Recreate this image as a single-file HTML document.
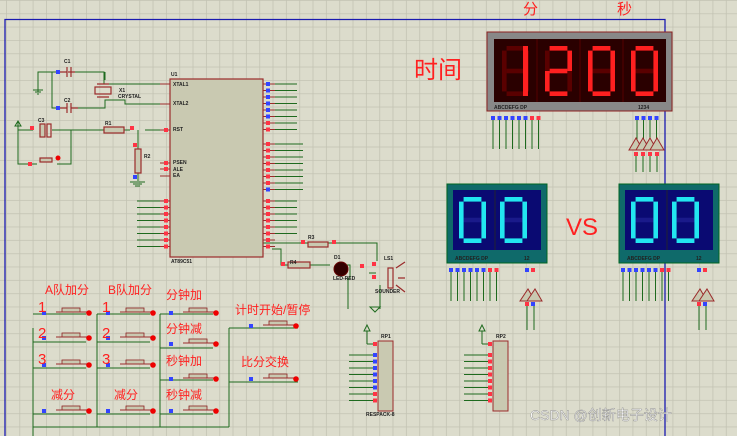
<!DOCTYPE html>
<html><head><meta charset="utf-8"><style>
html,body{margin:0;padding:0;background:#dcdccc;}
svg{display:block}
.cn{font-family:"Liberation Sans","Noto Sans CJK SC",sans-serif;fill:#ff2020}
.sm{font-family:"Liberation Sans",sans-serif;font-size:5px;fill:#222;font-weight:bold}
.gr{font-family:"Liberation Sans",sans-serif;font-size:4px;fill:#999}
</style></head><body>
<svg id="s" width="737" height="436" viewBox="0 0 737 436" xmlns="http://www.w3.org/2000/svg">
<defs>
<pattern id="g" x="6" y="0" width="13.33" height="13.33" patternUnits="userSpaceOnUse">
<rect width="13.33" height="13.33" fill="#dcdccc"/>
<path d="M0 0H13.33M0 0V13.33" stroke="#c3c3b3" stroke-width="1.6" fill="none"/>
</pattern>
</defs>
<rect width="737" height="436" fill="url(#g)"/>
<!-- blue frame -->
<path d="M5 436V19.5H665V436" stroke="#1a1ab0" stroke-width="1.3" fill="none"/>

<g id="wires" stroke="#1e6a1e" stroke-width="1" fill="none">
<!-- oscillator -->
<path d="M38 92V72H58M52 72V108H58M75 72H104V84H160M75 108H105V100H125V104H160M105 72V80M105 102V108"/>
<path d="M18 121V130H33M52 130H130M138 130V181M145 130H165M18 130V164H37M57 164H71V130"/>
<path d="M33 328V436M97 314V427M160 314V427M229 328V427M33 427H229"/>
<path d="M33 314H86M97 314H150M160 314H213"/>
<path d="M33 342H86M97 342H150M160 348H213"/>
<path d="M33 368H86M97 368H150M160 380H213"/>
<path d="M33 414H86M97 414H150M160 414H213"/>
<path d="M229 328H298M229 382H298"/>
<!-- led/buzzer -->
<path d="M263 243H377V261M272 249H281V265H288M300 265H330M345 265H350V278M348 278V309M369 273H376M380 285V309"/>
</g>

<!-- U1 chip -->
<rect x="170" y="79" width="93" height="178" fill="#c9c9b1" stroke="#9b2b2b" stroke-width="1.2"/>
<text x="171" y="76" class="sm">U1</text>
<text x="171" y="263" class="sm">AT89C51</text>
<text x="173" y="86" class="sm" font-size="4">XTAL1</text>
<text x="173" y="105" class="sm" font-size="4">XTAL2</text>
<text x="173" y="131" class="sm" font-size="4">RST</text>
<text x="173" y="164" class="sm" font-size="4">PSEN</text>
<text x="173" y="171" class="sm" font-size="4">ALE</text>
<text x="173" y="177" class="sm" font-size="4">EA</text>

<!-- capacitors/crystal -->
<g stroke="#9b2b2b" stroke-width="1.2" fill="none">
<path d="M58 72H67M75 72H68M67 67V77M71 67V77"/>
<path d="M58 108H67M71 108H78M67 103V113M71 103V113"/>
<rect x="95" y="87" width="16" height="7"/>
<path d="M97 84H109M97 97H109"/>
<rect x="40" y="124" width="5" height="13" fill="#c9c9b1"/><rect x="47" y="124" width="4" height="13"/>
<rect x="104" y="127" width="20" height="6" fill="#c9c9b1"/>
<rect x="135" y="149" width="6" height="24" fill="#c9c9b1"/>
<rect x="40" y="158" width="12" height="4" fill="#c9c9b1"/>
<rect x="308" y="242" width="20" height="5" fill="#c9c9b1"/>
<rect x="288" y="262" width="22" height="6" fill="#c9c9b1"/>
<rect x="388" y="268" width="5" height="20"/>
<path d="M396 268L405 262M396 285L405 292M398 278H405"/>
</g>
<path d="M33 90H43M35 92H41M37 94H39M130 182H145M133 184H142M135 186H140" stroke="#1e6a1e" stroke-width="1"/>
<path d="M18 121L15 126H21Z M370 307H380L375 312Z" fill="none" stroke="#1e6a1e"/>
<circle cx="341" cy="269" r="7" fill="#330000" stroke="#600" />
<text x="64" y="63" class="sm" font-size="7">C1</text>
<text x="64" y="102" class="sm" font-size="7">C2</text>
<text x="38" y="122" class="sm" font-size="7">C3</text>
<text x="119" y="92" class="sm" font-size="7">X1</text>
<text x="118" y="98" class="sm" font-size="4">CRYSTAL</text>
<text x="105" y="125" class="sm" font-size="7">R1</text>
<text x="144" y="158" class="sm" font-size="7">R2</text>
<text x="308" y="239" class="sm" font-size="7">R3</text>
<text x="290" y="264" class="sm" font-size="7">R4</text>
<text x="334" y="259" class="sm" font-size="7">D1</text>
<text x="384" y="260" class="sm" font-size="7">LS1</text>
<text x="375" y="293" class="sm" font-size="4">SOUNDER</text>
<text x="333" y="280" class="sm" font-size="4">LED-RED</text>

<!-- red display -->
<rect x="487" y="32" width="185" height="79" fill="#888" stroke="#8b2020" stroke-width="1"/>
<rect x="494" y="39" width="172" height="63" fill="#2a0000"/>
<text x="494" y="109" class="sm" font-size="5">ABCDEFG  DP</text>
<text x="638" y="109" class="sm" font-size="5">1234</text>
<!-- blue displays -->
<rect x="447" y="184" width="100" height="79" fill="#0f6a6a" stroke="#062" stroke-width="1"/>
<rect x="453" y="190" width="88" height="60" fill="#0a0a72"/>
<text x="455" y="260" class="sm" font-size="5">ABCDEFG  DP</text><text x="524" y="260" class="sm" font-size="5">12</text>
<rect x="619" y="184" width="100" height="79" fill="#0f6a6a" stroke="#062" stroke-width="1"/>
<rect x="625" y="190" width="88" height="60" fill="#0a0a72"/>
<text x="627" y="260" class="sm" font-size="5">ABCDEFG  DP</text><text x="696" y="260" class="sm" font-size="5">12</text>
<g id="digits"></g>
<g id="pins"></g>

<!-- RP -->
<rect x="378" y="341" width="15" height="70" fill="#c9c9b1" stroke="#9b2b2b"/>
<rect x="493" y="341" width="15" height="70" fill="#c9c9b1" stroke="#9b2b2b"/>
<text x="381" y="338" class="sm" font-size="6">RP1</text>
<text x="496" y="338" class="sm" font-size="6">RP2</text>
<text x="366" y="416" class="sm" font-size="4">RESPACK-8</text>

<!-- big labels -->
<text x="414" y="78" class="cn" font-size="24">时间</text>
<text x="523" y="14" class="cn" font-size="15">分</text>
<text x="617" y="14" class="cn" font-size="15">秒</text>
<text x="566" y="235" class="cn" font-size="24">VS</text>
<g class="cn" font-size="12">
<text x="45" y="294">A队加分</text><text x="108" y="294">B队加分</text>
<text x="166" y="299">分钟加</text><text x="166" y="333">分钟减</text>
<text x="166" y="365">秒钟加</text><text x="166" y="399">秒钟减</text>
<text x="51" y="399">减分</text><text x="114" y="399">减分</text>
<text x="235" y="314">计时开始/暂停</text><text x="241" y="366">比分交换</text>
</g>
<g class="cn" font-size="15">
<text x="38" y="312">1</text><text x="38" y="338">2</text><text x="38" y="364">3</text>
<text x="102" y="312">1</text><text x="102" y="338">2</text><text x="102" y="364">3</text>
</g>
<text x="530" y="420" font-family="Liberation Sans,Noto Sans CJK SC,sans-serif" font-size="14" fill="#ffffff" stroke="#888" stroke-width="0.4">CSDN @创新电子设计</text>
</svg>
<script>
var NS="http://www.w3.org/2000/svg",s=document.getElementById('s');
function el(t,a,p){var e=document.createElementNS(NS,t);for(var k in a)e.setAttribute(k,a[k]);(p||s).appendChild(e);return e;}
var D=document.getElementById('digits');
var M={0:"abcdef",1:"bc",2:"abdeg"};
function dig(x,y,w,h,d,on,off){var t=Math.max(3,w*0.17),m=h/2;
var seg={a:[x+t,y,w-2*t,t],d:[x+t,y+h-t,w-2*t,t],g:[x+t,y+m-t/2,w-2*t,t],f:[x,y+t,t,m-t],e:[x,y+m,t,m-t],b:[x+w-t,y+t,t,m-t],c:[x+w-t,y+m,t,m-t]};
for(var k in seg){var r=seg[k];el('rect',{x:r[0],y:r[1],width:r[2],height:r[3],fill:(d!=null&&M[d].indexOf(k)>=0)?on:off},D);}}
[null,1,2,0,0].slice(0);
var rd=[null,1,2,0];
// 4 red digits (first off but "1" shifted)
dig(502,46,27,50,null,'#ff2020','#5a0000');el('rect',{x:523,y:46,width:5,height:50,fill:'#ff2020'},D);
dig(545,46,27,50,2,'#ff2020','#5a0000');dig(588,46,27,50,0,'#ff2020','#5a0000');dig(631,46,27,50,0,'#ff2020','#5a0000');
for(var i=0;i<3;i++)el('line',{x1:537+i*43,y1:39,x2:537+i*43,y2:102,stroke:'#500'},D);
[[460,545],[632,717]].forEach(function(o){dig(o[0]-1,197,27,46,0,'#22e6f0','#1a1a8a');dig(o[0]+40,197,27,46,0,'#22e6f0','#1a1a8a');el('line',{x1:o[0]+35,y1:190,x2:o[0]+35,y2:250,stroke:'#223'},D);});
var P=document.getElementById('pins');
function pin(x,y,c){el('rect',{x:x,y:y,width:4,height:4,fill:c},P);}
function gl(x1,y1,x2,y2){el('line',{x1:x1,y1:y1,x2:x2,y2:y2,stroke:'#1e6a1e','stroke-width':1},P);}
function rl(x1,y1,x2,y2){el('line',{x1:x1,y1:y1,x2:x2,y2:y2,stroke:'#9b2b2b','stroke-width':1},P);}
// chip pins
for(var i=0;i<8;i++){var y=84+i*6.5;rl(263,y,275,y);pin(266,y-2,i<6?'#3344ff':'#ff3344');gl(275,y,297,y);}
for(var i=0;i<8;i++){var y=144+i*6.5;rl(263,y,275,y);pin(266,y-2,i==7?'#3344ff':'#ff3344');gl(275,y,303,y);}
for(var i=0;i<8;i++){var y=201+i*6.5;rl(263,y,275,y);pin(266,y-2,'#ff3344');if(i<6)gl(275,y,297,y);}
for(var i=0;i<8;i++){var y=201+i*6.5;rl(160,y,170,y);pin(164,y-2,'#ff3344');gl(137,y,160,y);}
rl(160,84,170,84);rl(160,104,170,104);rl(160,130,170,130);pin(164,128,'#ff3344');
rl(160,163,170,163);rl(160,169,170,169);rl(160,176,170,176);pin(164,161,'#ff3344');pin(164,167,'#ff3344');
pin(56,70,'#3344ff');pin(56,106,'#3344ff');pin(30,126,'#ff3344');pin(130,126,'#ff3344');pin(133,143,'#ff3344');pin(133,175,'#3344ff');pin(28,162,'#ff3344');
el('circle',{cx:58,cy:158,r:2.5,fill:'#e00'},P);
pin(301,240,'#ff3344');pin(332,240,'#ff3344');pin(281,262,'#ff3344');pin(360,264,'#ff3344');pin(372,262,'#ff3344');pin(372,275,'#ff3344');
// display pins
function dpins(x0,y0,n,cols){for(var i=0;i<n;i++){var x=x0+i*6.5;pin(x-2,y0,cols[i]);gl(x,y0+4,x,y0+33);}}
dpins(493,116,8,['#3344ff','#3344ff','#3344ff','#3344ff','#3344ff','#3344ff','#ff3344','#ff3344']);
dpins(637,116,4,['#3344ff','#3344ff','#3344ff','#3344ff']);
for(var i=0;i<4;i++){el('polygon',{points:(629+i*7)+',150 '+(643+i*7)+',150 '+(636+i*7)+',138',fill:'#c9c9b1',stroke:'#9b2b2b'},P);pin(634+i*7,152,'#ff3344');gl(636+i*7,156,636+i*7,172);}
[[451,268],[623,268]].forEach(function(o){dpins(o[0],o[1],8,['#3344ff','#3344ff','#3344ff','#3344ff','#3344ff','#3344ff','#ff3344','#ff3344']);
var x=o[0]+74;pin(x,o[1],'#3344ff');pin(x+6,o[1],'#ff3344');
for(var i=0;i<2;i++){el('polygon',{points:(x-5+i*7)+',301 '+(x+10+i*7)+',301 '+(x+3+i*7)+',289',fill:'#c9c9b1',stroke:'#9b2b2b'},P);gl(x+2+i*7,304,x+2+i*7,330);}
pin(x,302,'#ff3344');pin(x+6,302,'#3344ff');});
// RP pins
[[378,'#3344ff'],[493,'#ff3344']].forEach(function(o){var x=o[0];pin(x-5,342,'#ff3344');gl(x-11,331,x-11,344);gl(x-11,344,x-5,344);
el('polygon',{points:(x-14)+',331 '+(x-8)+',331 '+(x-11)+',325',fill:'none',stroke:'#1e6a1e'},P);
for(var i=0;i<8;i++){var y=355+i*6.5;pin(x-5,y-2,i<6?o[1]:'#ff3344');gl(x-29,y,x-5,y);}});
// buttons
function btn(x,y){pin(x,y,'#3344ff');el('rect',{x:x+20,y:y-3,width:18,height:4,fill:'#c9c9b1',stroke:'#8b2020','stroke-width':0.8},P);rl(x+14,y+1,x+46,y+1);el('circle',{cx:x+47,cy:y+2,r:2.8,fill:'#ee0000'},P);}
[[42,311],[42,336],[42,363],[42,409],[106,311],[106,336],[106,363],[106,409],[169,311],[169,342],[169,377],[169,409],[249,324],[249,377]].forEach(function(b){btn(b[0],b[1]);});
</script>
</body></html>
